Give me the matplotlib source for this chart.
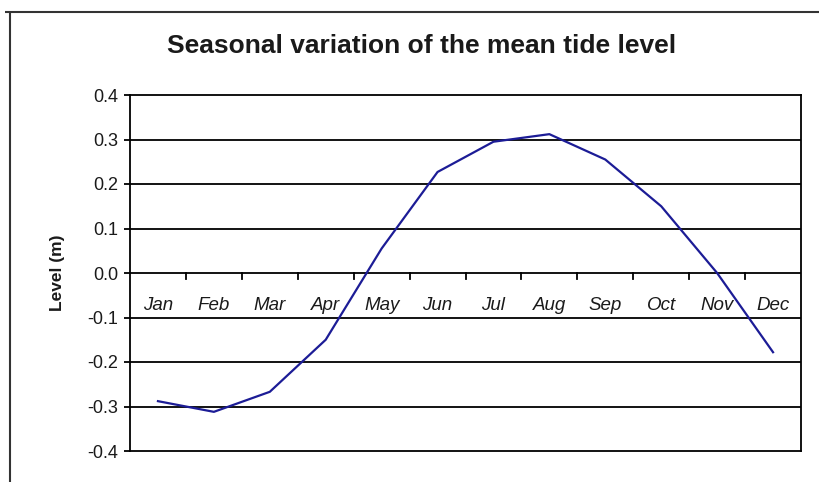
import numpy as np
import matplotlib
matplotlib.use("Agg")
from matplotlib import pyplot as plt
from matplotlib.lines import Line2D

plt.rcParams["font.family"] = ["Liberation Sans", "DejaVu Sans"]

months = ["Jan", "Feb", "Mar", "Apr", "May", "Jun",
          "Jul", "Aug", "Sep", "Oct", "Nov", "Dec"]
level = [-0.288, -0.312, -0.267, -0.150, 0.055, 0.227,
         0.295, 0.312, 0.255, 0.150, 0.000, -0.178]
yticks = [-0.4, -0.3, -0.2, -0.1, 0.0, 0.1, 0.2, 0.3, 0.4]

fig = plt.figure(figsize=(8.19, 4.82), dpi=100)

# chart frame (left and top edges only)
fig.add_artist(Line2D([10/819, 10/819], [0, 1 - 12/482], color="#333333",
                      lw=1.5, solid_capstyle="butt"))
fig.add_artist(Line2D([5/819, 1], [1 - 12/482, 1 - 12/482], color="#333333",
                      lw=1.5, solid_capstyle="butt"))

ax = fig.add_axes([130/819, 1 - 451/482, 671/819, 356/482])
x = np.arange(len(months))
ax.plot(x, level, color="#1c1c96", lw=1.6, zorder=3)

ax.set_xlim(-0.5, len(months) - 0.5)
ax.set_ylim(-0.4, 0.4)
ax.set_yticks(yticks)
ax.set_yticklabels([f"{v:.1f}" for v in yticks])
for v in yticks[1:-1]:
    ax.axhline(v, color="black", lw=1.3, zorder=1)

# x axis crosses at zero, ticks between months, labels at centres
for b in np.arange(0.5, len(months) - 0.5, 1):
    ax.plot([b, b], [0, -0.013], color="black", lw=1.3, zorder=2)
ax.set_xticks([])
for i, m in enumerate(months):
    ax.annotate(m, (i, 0), xytext=(0, -17), textcoords="offset points",
                ha="center", va="top", fontsize=13.5, style="italic",
                color="#1a1a1a")

for s in ax.spines.values():
    s.set_linewidth(1.3)
ax.tick_params(axis="y", direction="out", length=4.5, width=1.3, pad=4,
               labelsize=13, labelcolor="#1a1a1a")

ax.set_ylabel("Level (m)", fontsize=12.5, fontweight="bold", labelpad=16,
              color="#1a1a1a")
fig.text(422/819, 1 - 46/482, "Seasonal variation of the mean tide level",
         ha="center", va="center", fontsize=19, fontweight="bold",
         color="#1a1a1a")

fig.savefig("out.png", dpi=100)
